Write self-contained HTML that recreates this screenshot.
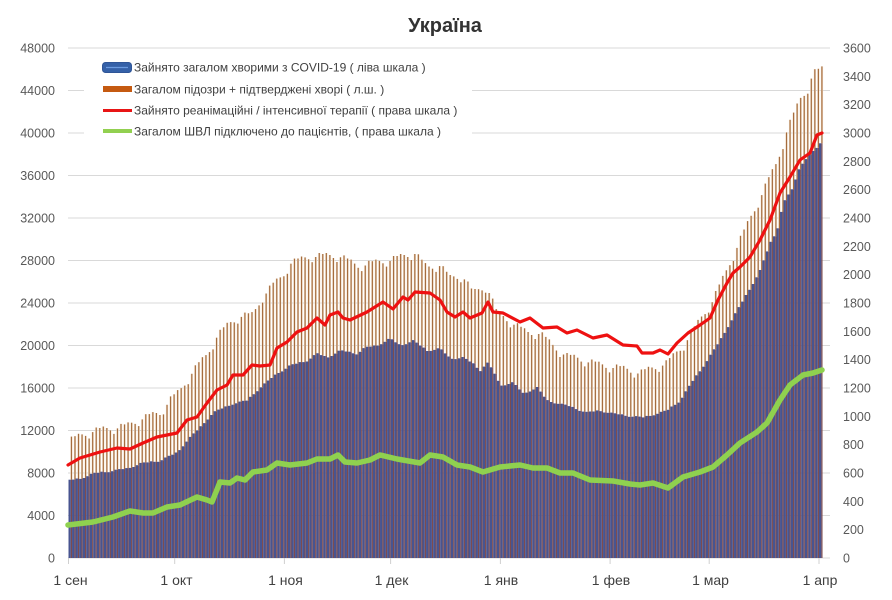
<!DOCTYPE html>
<html>
<head>
<meta charset="utf-8">
<style>
  html,body{margin:0;padding:0;background:#fff;}
  body{width:892px;height:600px;overflow:hidden;}
  svg{display:block;font-family:"Liberation Sans","DejaVu Sans",sans-serif;}
  .yl{font-size:12.5px;fill:#595959;}
  .xl{font-size:14px;fill:#404040;}
  .lg{font-size:12px;fill:#404040;}
</style>
</head>
<body>
<svg id="c" width="892" height="600" viewBox="0 0 892 600" xmlns="http://www.w3.org/2000/svg">
  <rect x="0" y="0" width="892" height="600" fill="#fff"/>
  <text x="445" y="32" text-anchor="middle" font-size="20" font-weight="bold" fill="#333">Україна</text>

  <!-- gridlines -->
  <g stroke="#d9d9d9" stroke-width="1">
    <line x1="68" y1="48" x2="830" y2="48"/>
    <line x1="68" y1="90.5" x2="830" y2="90.5"/>
    <line x1="68" y1="133" x2="830" y2="133"/>
    <line x1="68" y1="175.5" x2="830" y2="175.5"/>
    <line x1="68" y1="218" x2="830" y2="218"/>
    <line x1="68" y1="260.5" x2="830" y2="260.5"/>
    <line x1="68" y1="303" x2="830" y2="303"/>
    <line x1="68" y1="345.5" x2="830" y2="345.5"/>
    <line x1="68" y1="388" x2="830" y2="388"/>
    <line x1="68" y1="430.5" x2="830" y2="430.5"/>
    <line x1="68" y1="473" x2="830" y2="473"/>
    <line x1="68" y1="515.5" x2="830" y2="515.5"/>
    <line x1="68" y1="558" x2="830" y2="558"/>
  </g>
  <!-- month ticks -->
  <g stroke="#d0d0d0" stroke-width="1">
    <line x1="68.5" y1="558" x2="68.5" y2="564"/>
    <line x1="174.7" y1="558" x2="174.7" y2="564"/>
    <line x1="284.4" y1="558" x2="284.4" y2="564"/>
    <line x1="390.6" y1="558" x2="390.6" y2="564"/>
    <line x1="500.4" y1="558" x2="500.4" y2="564"/>
    <line x1="610.1" y1="558" x2="610.1" y2="564"/>
    <line x1="709.2" y1="558" x2="709.2" y2="564"/>
    <line x1="819" y1="558" x2="819" y2="564"/>
  </g>

  <g id="halo"></g>
  <g id="bars"></g>
  <polyline id="red" fill="none" stroke="#ee1111" stroke-width="3.2" stroke-linejoin="round" stroke-linecap="round" points=""/>
  <polyline id="green" fill="none" stroke="#8fd14f" stroke-width="5.5" stroke-linejoin="round" stroke-linecap="round" points=""/>

  <!-- left axis labels -->
  <g class="yl" text-anchor="end">
    <text x="55" y="52.5">48000</text>
    <text x="55" y="95">44000</text>
    <text x="55" y="137.5">40000</text>
    <text x="55" y="180">36000</text>
    <text x="55" y="222.5">32000</text>
    <text x="55" y="265">28000</text>
    <text x="55" y="307.5">24000</text>
    <text x="55" y="350">20000</text>
    <text x="55" y="392.5">16000</text>
    <text x="55" y="435">12000</text>
    <text x="55" y="477.5">8000</text>
    <text x="55" y="520">4000</text>
    <text x="55" y="562.5">0</text>
  </g>
  <!-- right axis labels -->
  <g class="yl" text-anchor="start">
    <text x="843" y="52.5">3600</text>
    <text x="843" y="80.8">3400</text>
    <text x="843" y="109.2">3200</text>
    <text x="843" y="137.5">3000</text>
    <text x="843" y="165.8">2800</text>
    <text x="843" y="194.2">2600</text>
    <text x="843" y="222.5">2400</text>
    <text x="843" y="250.8">2200</text>
    <text x="843" y="279.2">2000</text>
    <text x="843" y="307.5">1800</text>
    <text x="843" y="335.8">1600</text>
    <text x="843" y="364.2">1400</text>
    <text x="843" y="392.5">1200</text>
    <text x="843" y="420.8">1000</text>
    <text x="843" y="449.2">800</text>
    <text x="843" y="477.5">600</text>
    <text x="843" y="505.8">400</text>
    <text x="843" y="534.2">200</text>
    <text x="843" y="562.5">0</text>
  </g>
  <!-- x labels -->
  <g class="xl" text-anchor="middle">
    <text x="70.5" y="585">1 сен</text>
    <text x="176.5" y="585">1 окт</text>
    <text x="285.5" y="585">1 ноя</text>
    <text x="391.5" y="585">1 дек</text>
    <text x="501" y="585">1 янв</text>
    <text x="611" y="585">1 фев</text>
    <text x="710.5" y="585">1 мар</text>
    <text x="820" y="585">1 апр</text>
  </g>

  <!-- legend -->
  <rect x="84" y="54" width="388" height="90" fill="#fff"/>
  <rect x="102.5" y="62.5" width="29" height="10" rx="3" ry="3" fill="#3561a8" stroke="#2f5597" stroke-width="1"/>
  <line x1="106" y1="67.5" x2="128" y2="67.5" stroke="#6b9be0" stroke-width="1.2"/>
  <text class="lg" x="134" y="71.5">Зайнято загалом хворими з COVID-19 ( ліва шкала )</text>
  <rect x="103" y="86" width="29" height="6" fill="#c55a11"/>
  <text class="lg" x="134" y="93.5">Загалом підозри + підтверджені хворі ( л.ш. )</text>
  <line x1="103" y1="110.5" x2="132" y2="110.5" stroke="#e81515" stroke-width="3"/>
  <text class="lg" x="134" y="114.5">Зайнято реанімаційні / інтенсивної терапії ( права шкала )</text>
  <line x1="103" y1="131" x2="132" y2="131" stroke="#92d050" stroke-width="4"/>
  <text class="lg" x="134" y="135.5">Загалом ШВЛ  підключено до пацієнтів, ( права шкала )</text>
</svg>
<script>
(function(){
  var B=[[68,480],[80,478],[93,473],[127,468],[140,463],[160,460],[177,452],[187,440],[200,427],[213,412],[233,403],[247,400],[260,387],[277,373],[290,365],[307,360],[317,353],[327,357],[340,350],[357,353],[365,347],[377,345],[390,338],[400,345],[413,340],[427,350],[440,348],[450,358],[463,357],[473,363],[480,370],[487,362],[493,370],[500,385],[513,382],[523,393],[537,387],[547,400],[567,405],[587,412],[600,410],[613,413],[627,415],[643,417],[667,410],[680,400],[693,380],[707,360],[720,340],[733,317],[747,293],[760,270],[770,243],[777,230],[783,203],[793,187],[800,165],[807,157],[817,147],[823,140]];
  var O=[[68,438],[93,428],[127,423],[143,415],[160,410],[170,397],[180,388],[193,368],[207,352],[217,333],[227,323],[240,313],[253,312],[263,293],[273,282],[283,273],[290,260],[313,253],[340,253],[357,263],[390,257],[415,250],[427,265],[440,262],[450,275],[463,273],[473,290],[487,283],[497,310],[513,320],[527,330],[540,330],[553,343],[567,353],[587,358],[600,362],[620,365],[640,370],[667,360],[683,343],[700,317],[713,297],[727,267],[740,237],[753,210],[767,180],[777,160],[787,127],[800,97],[807,87],[813,70],[823,66]];
  var R=[[68,465],[80,458],[100,452],[117,448],[130,449],[143,443],[157,437],[177,433],[187,420],[197,417],[207,403],[217,390],[227,385],[233,375],[243,375],[252,365],[260,366],[270,365],[277,348],[287,342],[297,332],[307,328],[317,318],[325,325],[330,315],[338,312],[343,318],[350,320],[367,312],[383,302],[393,309],[403,297],[408,300],[415,292],[430,293],[440,300],[447,312],[455,317],[463,312],[470,318],[482,313],[488,302],[493,312],[503,313],[520,322],[530,318],[543,328],[557,327],[567,333],[577,330],[593,338],[607,335],[623,345],[637,346],[642,353],[653,353],[660,350],[668,354],[677,343],[688,333],[700,325],[710,318],[718,300],[727,283],[733,273],[740,267],[750,257],[760,240],[770,220],[780,193],[790,177],[800,160],[810,153],[817,135],[822,133]];
  var G=[[68,525],[93,522],[113,517],[130,511],[143,513],[153,513],[167,507],[180,505],[197,497],[207,500],[212,502],[220,482],[230,483],[237,478],[245,480],[253,472],[267,470],[277,463],[290,465],[307,463],[317,459],[330,459],[338,455],[345,462],[357,463],[370,460],[380,455],[397,459],[420,463],[430,455],[443,457],[457,465],[470,467],[483,472],[500,467],[520,465],[533,468],[547,468],[560,473],[573,473],[590,480],[613,481],[630,484],[640,485],[653,483],[668,488],[683,477],[700,472],[713,467],[727,455],[740,443],[757,432],[767,423],[780,400],[790,385],[803,375],[813,373],[822,370]];
  function f(p,x){
    if(x<=p[0][0]) return p[0][1];
    for(var i=1;i<p.length;i++){
      if(x<=p[i][0]){var a=p[i-1],b=p[i];return a[1]+(b[1]-a[1])*(x-a[0])/(b[0]-a[0]);}
    }
    return p[p.length-1][1];
  }
  var nz=[0,1,0,2,5,9,4];
  var bn=[0,0.5,0,1,1.5,1,0];
  var h='',s='';
  for(var d=0; d<213; d++){
    var L=68.5+d*3.54;
    var yb=f(B,L+1.2)+bn[d%7];
    var yo=f(O,L+3)+nz[d%7];
    if(yo>yb-2) yo=yb-2;
    h+='<rect x="'+(L+1.8).toFixed(2)+'" y="'+yo.toFixed(1)+'" width="2.3" height="'+(yb-yo).toFixed(1)+'" fill="#f5e7d4"/>';
    s+='<rect x="'+L.toFixed(2)+'" y="'+yb.toFixed(1)+'" width="2.35" height="'+(558-yb).toFixed(1)+'" fill="#485490"/>';
    s+='<rect x="'+(L+2.35).toFixed(2)+'" y="'+yo.toFixed(1)+'" width="1.19" height="'+(yb-yo).toFixed(1)+'" fill="#a56c3e"/>';
    s+='<rect x="'+(L+2.35).toFixed(2)+'" y="'+yb.toFixed(1)+'" width="1.19" height="'+(558-yb).toFixed(1)+'" fill="#7d4b4e"/>';
  }
  document.getElementById('halo').innerHTML=h;
  document.getElementById('bars').innerHTML=s;
  function pts(p){return p.map(function(q){return q[0]+','+q[1];}).join(' ');}
  document.getElementById('red').setAttribute('points',pts(R));
  document.getElementById('green').setAttribute('points',pts(G));
})();
</script>
</body>
</html>
